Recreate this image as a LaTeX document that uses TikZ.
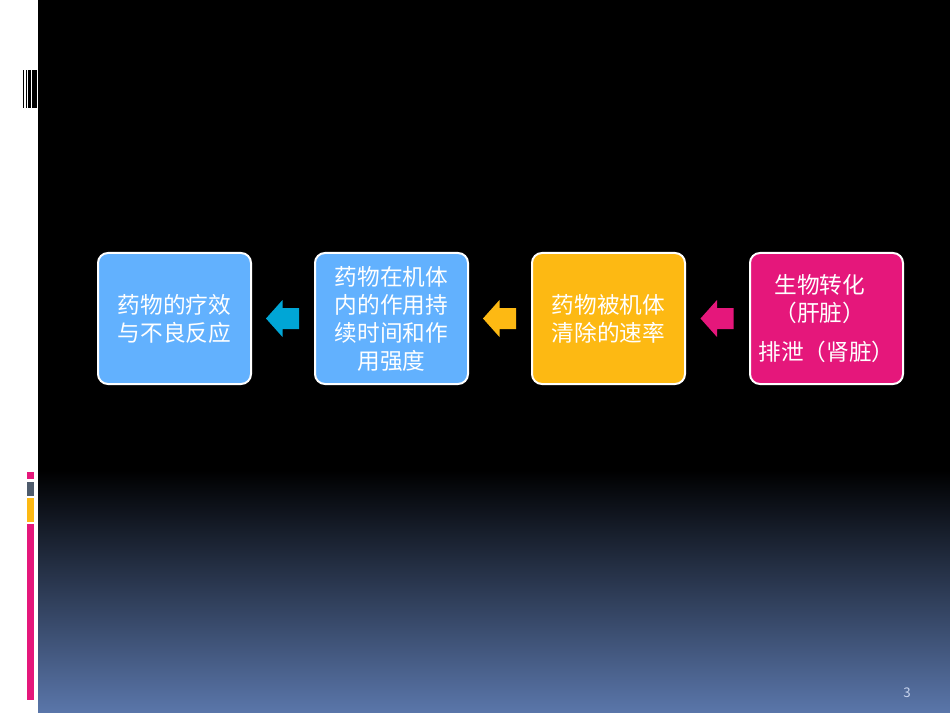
\documentclass[tikz,border=0pt]{standalone}
\usepackage{fontspec}
\newfontfamily\cjk{Noto Sans CJK SC}
\definecolor{boxblue}{HTML}{62B1FE}
\definecolor{boxgold}{HTML}{FDB913}
\definecolor{boxpink}{HTML}{E5177B}
\definecolor{arrcyan}{HTML}{00A6D6}
\definecolor{barslate}{HTML}{4E5B6C}
\definecolor{bgblue}{HTML}{5A76AA}
\definecolor{numcol}{HTML}{C9D5EE}

\begin{document}
\begin{tikzpicture}[x=0.75pt,y=-0.75pt,
    stage/.style={rectangle,draw=white,line width=1.5pt,rounded corners=7.5pt,
        minimum width=114.75pt,minimum height=98.25pt,text=white,align=center,
        font=\cjk\fontsize{17}{21}\selectfont}]
    \useasboundingbox (0,0) rectangle (950,713);
    % background
    \fill [white] (0,0) rectangle (950,713);
    \fill [black] (38,0) rectangle (950,470);
    \shade [top color=black,bottom color=bgblue] (38,470) rectangle (950,713);
    % left strip
    \fill [black] (23,70) rectangle (24.2,108);
    \fill [black] (25.8,70) rectangle (27,108);
    \fill [black] (28.2,70) rectangle (31,108);
    \fill [black] (32.3,70) rectangle (37,108);
    \fill [boxpink] (27,472) rectangle (34,479);
    \fill [barslate] (27,482) rectangle (34,496);
    \fill [boxgold] (27,498) rectangle (34,522);
    \fill [boxpink] (27,524) rectangle (34,700);
    % stages
    \node (effect) [stage,fill=boxblue] at (174.5,318.5) {药物的疗效\\与不良反应};
    \node (action) [stage,fill=boxblue] at (391.5,318.5) {药物在机体\\内的作用持\\续时间和作\\用强度};
    \node (clear) [stage,fill=boxgold] at (608.5,318.5) {药物被机体\\清除的速率};
    \node (organ) [stage,fill=boxpink] at (826.5,318.5) {\hspace*{-10pt}生物转化\\\hspace*{-10pt}（肝脏）\\[8pt]排泄（肾脏）};
    % block arrows
    \foreach \cx/\col in {282.5/arrcyan,499.5/boxgold,717/boxpink}
        \fill [\col] (\cx+16.5,308) -- (\cx,308) -- (\cx,300) -- (\cx-16.5,318.5)
            -- (\cx,337) -- (\cx,329) -- (\cx+16.5,329) -- cycle;
    \node (page) [text=numcol,font=\cjk\fontsize{10}{12}\selectfont] at (907,693) {3};
\end{tikzpicture}
\end{document}
